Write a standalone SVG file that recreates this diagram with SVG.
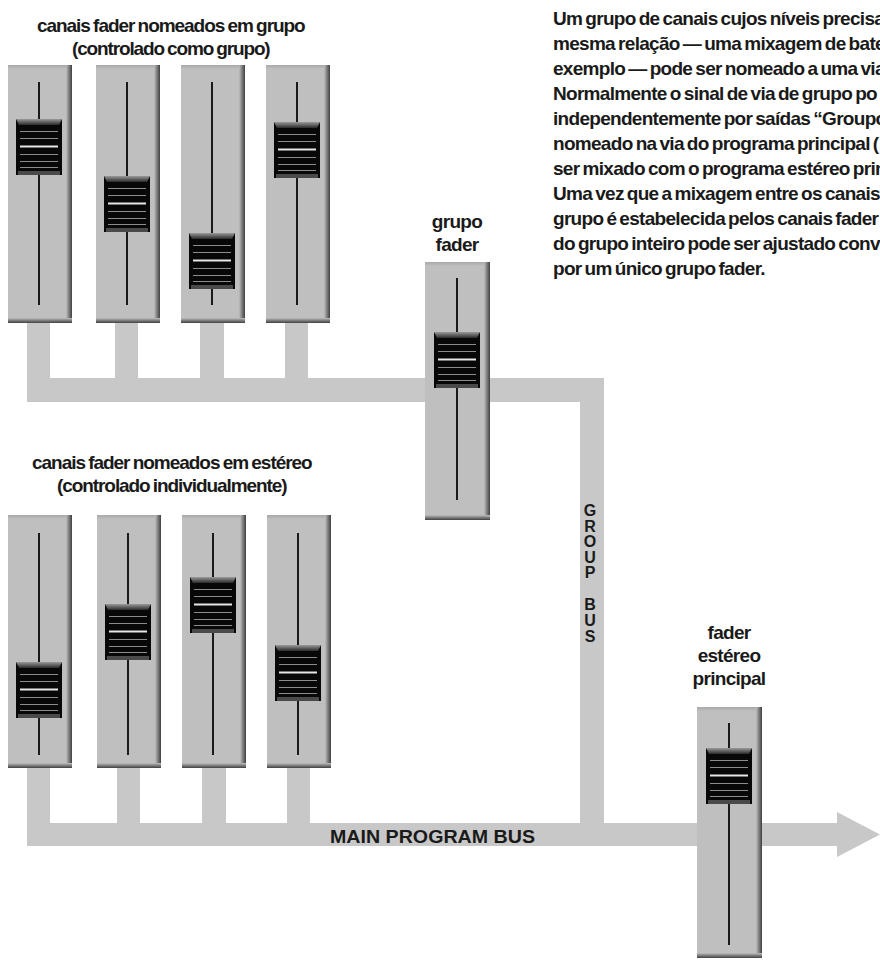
<svg xmlns="http://www.w3.org/2000/svg" width="880" height="960" viewBox="0 0 880 960">
<style>
  text { font-family: "Liberation Sans", Arial, sans-serif; font-weight: bold; fill: #1a1a1a; }
  .lbl { font-size: 19px; text-anchor: middle; letter-spacing: -0.7px; word-spacing: -1px; }
  .para { font-size: 19px; letter-spacing: -0.7px; word-spacing: -1.5px; }
  .bus { fill: #c8c8c8; }
  .busTxt { font-size: 16px; text-anchor: middle; }
  .mainTxt { font-size: 19px; }
  .strip { fill: #bfbfbf; }
  .track { stroke: #1a1a1a; stroke-width: 2; }
</style>
<defs>
  <linearGradient id="rEdge" x1="0" y1="0" x2="1" y2="0">
    <stop offset="0" stop-color="#bfbfbf"/>
    <stop offset="0.4" stop-color="#8a8a8a"/>
    <stop offset="1" stop-color="#404040"/>
  </linearGradient>
  <linearGradient id="bEdge" x1="0" y1="0" x2="0" y2="1">
    <stop offset="0" stop-color="#bfbfbf"/>
    <stop offset="0.4" stop-color="#8a8a8a"/>
    <stop offset="1" stop-color="#404040"/>
  </linearGradient>
  <linearGradient id="tEdge" x1="0" y1="0" x2="0" y2="1">
    <stop offset="0" stop-color="#a8a8a8"/>
    <stop offset="1" stop-color="#bfbfbf"/>
  </linearGradient>
  <linearGradient id="kTop" x1="0" y1="0" x2="0" y2="1">
    <stop offset="0" stop-color="#9a9a9a"/>
    <stop offset="1" stop-color="#2a2a2a"/>
  </linearGradient>
  <g id="knob">
    <rect x="0" y="0" width="46" height="56" fill="#080808"/>
    <polygon points="0,0 46,0 43,6 3,6" fill="url(#kTop)"/>
    <polygon points="2,56 44,56 44,52 2,52" fill="#4a4a4a"/>
    <g stroke="#8c8c8c" stroke-width="1">
      <line x1="4" y1="12.5" x2="42" y2="12.5"/>
      <line x1="4" y1="19.5" x2="42" y2="19.5"/>
      <line x1="4" y1="35.5" x2="42" y2="35.5"/>
      <line x1="4" y1="42.5" x2="42" y2="42.5"/>
      <line x1="4" y1="48.5" x2="42" y2="48.5"/>
    </g>
    <line x1="4" y1="27.5" x2="42" y2="27.5" stroke="#e6e6e6" stroke-width="2"/>
  </g>
</defs>

<g id="connectors">
  <rect class="bus" x="27" y="318" width="23" height="70"/>
  <rect class="bus" x="115" y="318" width="23" height="70"/>
  <rect class="bus" x="200" y="318" width="24" height="70"/>
  <rect class="bus" x="285" y="318" width="23" height="70"/>
  <rect class="bus" x="27" y="378" width="577" height="24"/>
  <rect class="bus" x="580" y="378" width="24" height="468"/>
  <rect class="bus" x="27" y="762" width="23" height="70"/>
  <rect class="bus" x="117" y="762" width="23" height="70"/>
  <rect class="bus" x="202" y="762" width="24" height="70"/>
  <rect class="bus" x="287" y="762" width="23" height="70"/>
  <rect class="bus" x="27" y="823" width="812" height="23"/>
  <polygon class="bus" points="837,812 880,834.5 837,857"/>
</g>

<g id="group-channel-1">
  <rect class="strip" x="8" y="65" width="64" height="258"/>
  <rect x="8" y="65" width="64" height="4" fill="url(#tEdge)"/>
  <rect x="66" y="65" width="6" height="258" fill="url(#rEdge)"/>
  <rect x="8" y="318" width="64" height="5" fill="url(#bEdge)"/>
  <line class="track" x1="39" y1="82" x2="39" y2="305"/>
  <use href="#knob" x="16" y="119"/>
</g>
<g id="group-channel-2">
  <rect class="strip" x="96" y="65" width="64" height="258"/>
  <rect x="96" y="65" width="64" height="4" fill="url(#tEdge)"/>
  <rect x="154" y="65" width="6" height="258" fill="url(#rEdge)"/>
  <rect x="96" y="318" width="64" height="5" fill="url(#bEdge)"/>
  <line class="track" x1="127" y1="82" x2="127" y2="305"/>
  <use href="#knob" x="104" y="176"/>
</g>
<g id="group-channel-3">
  <rect class="strip" x="181" y="65" width="64" height="258"/>
  <rect x="181" y="65" width="64" height="4" fill="url(#tEdge)"/>
  <rect x="239" y="65" width="6" height="258" fill="url(#rEdge)"/>
  <rect x="181" y="318" width="64" height="5" fill="url(#bEdge)"/>
  <line class="track" x1="212" y1="82" x2="212" y2="305"/>
  <use href="#knob" x="189" y="233"/>
</g>
<g id="group-channel-4">
  <rect class="strip" x="266" y="65" width="64" height="258"/>
  <rect x="266" y="65" width="64" height="4" fill="url(#tEdge)"/>
  <rect x="324" y="65" width="6" height="258" fill="url(#rEdge)"/>
  <rect x="266" y="318" width="64" height="5" fill="url(#bEdge)"/>
  <line class="track" x1="297" y1="82" x2="297" y2="305"/>
  <use href="#knob" x="274" y="122"/>
</g>

<g id="stereo-channel-1">
  <rect class="strip" x="8" y="515" width="64" height="253"/>
  <rect x="8" y="515" width="64" height="4" fill="url(#tEdge)"/>
  <rect x="66" y="515" width="6" height="253" fill="url(#rEdge)"/>
  <rect x="8" y="763" width="64" height="5" fill="url(#bEdge)"/>
  <line class="track" x1="39" y1="533" x2="39" y2="755"/>
  <use href="#knob" x="16" y="662"/>
</g>
<g id="stereo-channel-2">
  <rect class="strip" x="97" y="515" width="64" height="253"/>
  <rect x="97" y="515" width="64" height="4" fill="url(#tEdge)"/>
  <rect x="155" y="515" width="6" height="253" fill="url(#rEdge)"/>
  <rect x="97" y="763" width="64" height="5" fill="url(#bEdge)"/>
  <line class="track" x1="128" y1="533" x2="128" y2="755"/>
  <use href="#knob" x="105" y="604"/>
</g>
<g id="stereo-channel-3">
  <rect class="strip" x="182" y="515" width="64" height="253"/>
  <rect x="182" y="515" width="64" height="4" fill="url(#tEdge)"/>
  <rect x="240" y="515" width="6" height="253" fill="url(#rEdge)"/>
  <rect x="182" y="763" width="64" height="5" fill="url(#bEdge)"/>
  <line class="track" x1="213" y1="533" x2="213" y2="755"/>
  <use href="#knob" x="190" y="577"/>
</g>
<g id="stereo-channel-4">
  <rect class="strip" x="267" y="515" width="64" height="253"/>
  <rect x="267" y="515" width="64" height="4" fill="url(#tEdge)"/>
  <rect x="325" y="515" width="6" height="253" fill="url(#rEdge)"/>
  <rect x="267" y="763" width="64" height="5" fill="url(#bEdge)"/>
  <line class="track" x1="298" y1="533" x2="298" y2="755"/>
  <use href="#knob" x="275" y="645"/>
</g>

<g id="group-fader">
  <rect class="strip" x="425" y="262" width="65" height="258"/>
  <rect x="425" y="262" width="65" height="4" fill="url(#tEdge)"/>
  <rect x="484" y="262" width="6" height="258" fill="url(#rEdge)"/>
  <rect x="425" y="515" width="65" height="5" fill="url(#bEdge)"/>
  <line class="track" x1="457" y1="278" x2="457" y2="500"/>
  <use href="#knob" x="434" y="332"/>
</g>

<g id="main-fader">
  <rect class="strip" x="697" y="707" width="65" height="251"/>
  <rect x="697" y="707" width="65" height="4" fill="url(#tEdge)"/>
  <rect x="756" y="707" width="6" height="251" fill="url(#rEdge)"/>
  <rect x="697" y="953" width="65" height="5" fill="url(#bEdge)"/>
  <line class="track" x1="729" y1="723" x2="729" y2="945"/>
  <use href="#knob" x="706" y="748"/>
</g>

<g id="labels">
  <text class="lbl" x="171" y="32" textLength="268">canais fader nomeados em grupo</text>
  <text class="lbl" x="171" y="55" textLength="198">(controlado como grupo)</text>
  <text class="lbl" x="172" y="469" textLength="280">canais fader nomeados em estéreo</text>
  <text class="lbl" x="172" y="492" textLength="230">(controlado individualmente)</text>
  <text class="lbl" x="457" y="228">grupo</text>
  <text class="lbl" x="457" y="251">fader</text>
  <text class="lbl" x="729" y="639">fader</text>
  <text class="lbl" x="729" y="662">estéreo</text>
  <text class="lbl" x="729" y="685">principal</text>
  <text class="mainTxt" x="330" y="843" textLength="205" lengthAdjust="spacingAndGlyphs">MAIN PROGRAM BUS</text>
  <text class="busTxt" x="590" y="516">G</text>
  <text class="busTxt" x="590" y="532">R</text>
  <text class="busTxt" x="590" y="547">O</text>
  <text class="busTxt" x="590" y="563">U</text>
  <text class="busTxt" x="590" y="578">P</text>
  <text class="busTxt" x="590" y="610">B</text>
  <text class="busTxt" x="590" y="626">U</text>
  <text class="busTxt" x="590" y="642">S</text>
</g>

<g id="description">
  <text class="para" x="553" y="25">Um grupo de canais cujos níveis precisa</text>
  <text class="para" x="553" y="50">mesma relação — uma mixagem de bate</text>
  <text class="para" x="553" y="75">exemplo — pode ser nomeado a uma via</text>
  <text class="para" x="553" y="100">Normalmente o sinal de via de grupo po</text>
  <text class="para" x="553" y="125">independentemente por saídas “Groupo</text>
  <text class="para" x="553" y="150">nomeado na via do programa principal (</text>
  <text class="para" x="553" y="175">ser mixado com o programa estéreo prin</text>
  <text class="para" x="553" y="200">Uma vez que a mixagem entre os canais</text>
  <text class="para" x="553" y="225">grupo é estabelecida pelos canais fader</text>
  <text class="para" x="553" y="250">do grupo inteiro pode ser ajustado conv</text>
  <text class="para" x="553" y="275">por um único grupo fader.</text>
</g>
</svg>
